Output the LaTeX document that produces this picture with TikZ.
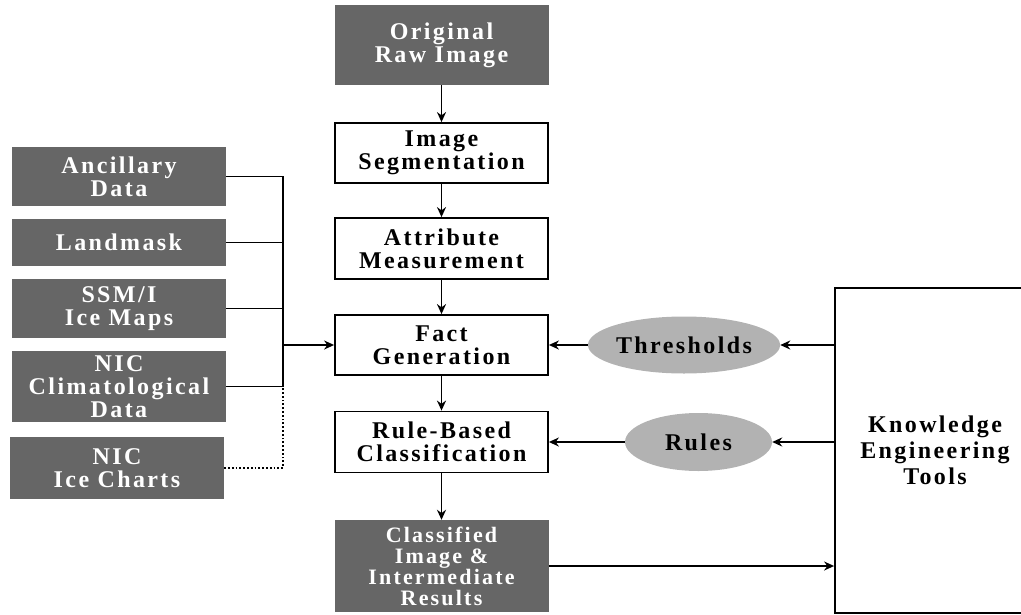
\documentclass[tikz,border=0pt]{standalone}
\usepackage{fontspec}
\setmainfont{Liberation Serif}
\newfontfamily\boxfont[LetterSpace=10]{Liberation Serif}
\usetikzlibrary{arrows.meta,shapes.geometric}

\begin{document}
\begin{tikzpicture}[x=1pt, y=-1pt, >={Stealth[length=10pt,width=9pt]},
    every node/.style={align=center, inner sep=0pt,
      font=\boxfont\bfseries\fontsize{24}{23}\selectfont},
    darkbox/.style={fill=black!60, text=white, minimum width=214pt},
    whitebox/.style={draw, line width=1.8pt, fill=white, minimum width=213pt},
    oval/.style={ellipse, fill=black!30},
    link/.style={line width=1.8pt}]

  % 画布大小
  \useasboundingbox (0,0) rectangle (1021,614);

  % 中间一列
  \node[darkbox, minimum height=80pt] (raw) at (441.5,45) {Original\\Raw Image};
  \node[whitebox, minimum height=60pt] (seg) at (441.5,153) {Image\\Segmentation};
  \node[whitebox, minimum height=61pt] (attr) at (441.5,248.5) {Attribute\\Measurement};
  \node[whitebox, minimum height=60pt] (fact) at (441.5,345) {Fact\\Generation};
  \node[whitebox, minimum height=61pt] (rule) at (441.5,442) {Rule-Based\\Classification};
  \node[darkbox, minimum height=92pt, font=\boxfont\bfseries\fontsize{22}{21}\selectfont]
    (result) at (441.5,566) {Classified\\Image \&\\Intermediate\\Results};

  % 左侧数据源
  \node[darkbox, minimum height=59pt] (anc) at (119,176.5) {Ancillary\\Data};
  \node[darkbox, minimum height=47pt] (land) at (119,242.5) {Landmask};
  \node[darkbox, minimum height=59pt] (ssmi) at (119,308.5) {SSM/I\\Ice Maps};
  \node[darkbox, minimum height=71pt] (clim) at (119,386.5) {NIC\\Climatological\\Data};
  \node[darkbox, minimum height=62pt] (ice) at (117,468) {NIC\\Ice Charts};

  % 右侧
  \node[oval, minimum width=182pt, minimum height=57pt] (thr) at (684,345) {Thresholds};
  \node[oval, minimum width=147pt, minimum height=58pt] (rules) at (698.5,442) {Rules};
  \node[draw, line width=1.8pt, minimum width=200pt, minimum height=325pt,
    font=\boxfont\bfseries\fontsize{24}{26}\selectfont]
    (ket) at (935,450.5) {Knowledge\\Engineering\\Tools};

  % 主流程箭头
  \draw[link,->] (raw) -- (seg);
  \draw[link,->] (seg) -- (attr);
  \draw[link,->] (attr) -- (fact);
  \draw[link,->] (fact) -- (rule);
  \draw[link,->] (rule) -- (result);

  % 左侧汇总线
  \coordinate (bus) at (283,345);
  \draw[link] (anc.east) -- (anc.east -| bus) -- (clim.east -| bus) -- (clim.east);
  \draw[link] (land.east) -- (land.east -| bus);
  \draw[link] (ssmi.east) -- (ssmi.east -| bus);
  \draw[link,->] (bus) -- (fact.west);
  \draw[link,dotted] (ice.east) -- (ice.east -| bus) -- (clim.east -| bus);

  % 右侧箭头
  \draw[link,->] (ket.west |- thr) -- (thr.east);
  \draw[link,->] (thr.west) -- (fact.east);
  \draw[link,->] (ket.west |- rules) -- (rules.east);
  \draw[link,->] (rules.west) -- (rule.east);
  \draw[link,->] (result.east) -- (result.east -| ket.west);

\end{tikzpicture}
\end{document}
